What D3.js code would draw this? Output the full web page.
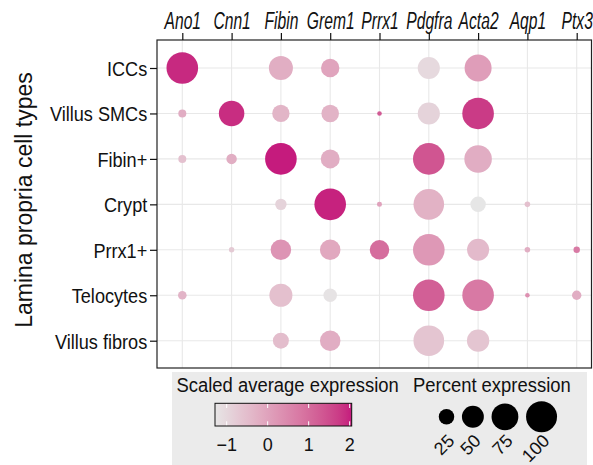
<!DOCTYPE html>
<html>
<head>
<meta charset="utf-8">
<script src="https://cdn.jsdelivr.net/npm/d3@7"></script>
<style>
  body { margin: 0; background: #fff; }
  text { font-family: 'Liberation Sans', Arial, Helvetica, sans-serif; fill: #111; }
</style>
</head>
<body>
<script>
const width = 593
const height = 465

const genes = ['Ano1', 'Cnn1', 'Fibin', 'Grem1', 'Prrx1', 'Pdgfra', 'Acta2', 'Aqp1', 'Ptx3']
const cellTypes = ['ICCs', 'Villus SMCs', 'Fibin+', 'Crypt', 'Prrx1+', 'Telocytes', 'Villus fibros']

// percent of cells expressing (null = no dot)
const pctExp = [
  [100, null, 58, 34, null, 49, 73, null, null],
  [6.4, 65, 30, 31, 2.1, 49, 100, null, null],
  [6.4, 11, 100, 36, null, 100, 76, null, null],
  [null, null, 13, 100, 2.5, 94, 24, 3.1, null],
  [null, 2.9, 42, 42, 38, 100, 49, 3.1, 4.1],
  [7.4, null, 53, 18.5, null, 100, 100, 2.1, 8.8],
  [null, null, 25.6, 42, null, 94, 50, null, null]
]

// scaled average expression
const avgExp = [
  [1.94, null, -0.21, -0.03, null, -1.03, 0.10, null, null],
  [-0.2, 1.9, -0.34, -0.3, 1.3, -0.92, 1.74, null, null],
  [-0.58, -0.22, 2.05, -0.2, null, 1.38, -0.2, null, null],
  [null, null, -0.92, 2.0, 0.01, -0.28, -1.28, -0.55, null],
  [null, -0.74, 0.27, -0.1, 0.98, 0.21, -0.45, -0.21, 0.76],
  [-0.33, null, -0.55, -1.22, null, 1.22, 0.77, 0.35, -0.2],
  [null, null, -0.5, -0.2, null, -0.65, -0.65, null, null]
]

const colorTicks = [-1, 0, 1, 2]
const sizeBreaks = [25, 50, 75, 100]

const panel = { left: 157, top: 40, right: 591.5, bottom: 368 }

let svg = d3.select('body').append('svg')
  .attr('width', width)
  .attr('height', height)

const x = d3.scalePoint().domain(genes).range([182.3, 576.7])
const y = d3.scalePoint().domain(cellTypes).range([68, 340.7])

const colorDomain = [-1.285, 2.05]
const color = d3.scaleLinear()
  .domain(colorDomain)
  .range(['#e6e6e6', '#c51b7d'])
  .interpolate(d3.interpolateLab)

const radius = d3.scaleSqrt().domain([0, 100]).range([0, 15.8])

// panel background + grid
svg.append('rect')
  .attr('x', panel.left).attr('y', panel.top)
  .attr('width', panel.right - panel.left)
  .attr('height', panel.bottom - panel.top)
  .attr('fill', '#fff')

let grid = svg.append('g').attr('class', 'grid')
grid.selectAll('line.v')
  .data(genes).enter().append('line')
  .attr('x1', (d) => x(d)).attr('x2', (d) => x(d))
  .attr('y1', panel.top).attr('y2', panel.bottom)
  .attr('stroke', '#e8e8e8').attr('stroke-width', 1.1)
grid.selectAll('line.h')
  .data(cellTypes).enter().append('line')
  .attr('y1', (d) => y(d)).attr('y2', (d) => y(d))
  .attr('x1', panel.left).attr('x2', panel.right)
  .attr('stroke', '#e8e8e8').attr('stroke-width', 1.1)

// dots
let cells = []
cellTypes.forEach((ct, i) => {
  genes.forEach((g, j) => {
    if (pctExp[i][j] != null) cells.push({ ct: ct, gene: g, pct: pctExp[i][j], avg: avgExp[i][j] })
  })
})

svg.append('g')
  .selectAll('circle')
  .data(cells)
  .enter()
  .append('circle')
  .attr('cx', (d) => x(d.gene))
  .attr('cy', (d) => y(d.ct))
  .attr('r', (d) => radius(d.pct))
  .attr('fill', (d) => color(d.avg))

// panel border
svg.append('rect')
  .attr('x', panel.left).attr('y', panel.top)
  .attr('width', panel.right - panel.left)
  .attr('height', panel.bottom - panel.top)
  .attr('fill', 'none')
  .attr('stroke', '#222')
  .attr('stroke-width', 1.2)

// axes
let xAxis = svg.append('g')
  .attr('transform', `translate(0,${panel.top})`)
  .call(d3.axisTop(x).tickSize(7).tickPadding(0))
xAxis.select('.domain').remove()
xAxis.selectAll('.tick line').attr('stroke', '#111').attr('stroke-width', 1.2)
xAxis.selectAll('.tick text')
  .attr('y', -11).attr('dy', 0)
  .attr('transform', 'scale(0.68,1)')
  .style('font-size', '23px')
  .style('font-style', 'italic')
  .attr('fill', '#111')

let yAxis = svg.append('g')
  .attr('transform', `translate(${panel.left},0)`)
  .call(d3.axisLeft(y).tickSize(7).tickPadding(0))
yAxis.select('.domain').remove()
yAxis.selectAll('.tick line').attr('stroke', '#111').attr('stroke-width', 1.2)
yAxis.selectAll('.tick text')
  .attr('x', -10.5).attr('dy', 0).attr('y', 7.3)
  .attr('transform', 'scale(0.93,1)')
  .style('font-size', '19.5px')
  .attr('fill', '#111')

svg.append('text')
  .attr('transform', 'translate(31.5,200) rotate(-90)')
  .attr('text-anchor', 'middle')
  .style('font-size', '23px')
  .text('Lamina propria cell types')

// legend box
let legend = svg.append('g')
legend.append('rect')
  .attr('x', 172).attr('y', 372)
  .attr('width', 415).attr('height', 100)
  .attr('fill', '#ebebeb')

legend.append('text')
  .attr('transform', 'translate(176.5,391.5) scale(0.945,1)')
  .style('font-size', '19.5px')
  .text('Scaled average expression')

// colour bar
const barX = d3.scaleLinear().domain(colorDomain).range([215, 351.7])
let grad = svg.append('defs').append('linearGradient')
  .attr('id', 'cbar')
  .attr('x1', '0%').attr('x2', '100%')
grad.selectAll('stop')
  .data(d3.range(0, 1.0001, 0.05))
  .enter().append('stop')
  .attr('offset', (d) => `${d * 100}%`)
  .attr('stop-color', (d) => color(colorDomain[0] + d * (colorDomain[1] - colorDomain[0])))

legend.append('rect')
  .attr('x', barX(colorDomain[0])).attr('y', 403.3)
  .attr('width', barX(colorDomain[1]) - barX(colorDomain[0])).attr('height', 22.7)
  .attr('fill', 'url(#cbar)')

legend.selectAll('line.ctop')
  .data(colorTicks).enter().append('line')
  .attr('x1', (d) => barX(d)).attr('x2', (d) => barX(d))
  .attr('y1', 403.3).attr('y2', 408)
  .attr('stroke', '#fff').attr('stroke-width', 1)
legend.selectAll('line.cbot')
  .data(colorTicks).enter().append('line')
  .attr('x1', (d) => barX(d)).attr('x2', (d) => barX(d))
  .attr('y1', 421.3).attr('y2', 426)
  .attr('stroke', '#fff').attr('stroke-width', 1)

legend.append('rect')
  .attr('x', barX(colorDomain[0])).attr('y', 403.3)
  .attr('width', barX(colorDomain[1]) - barX(colorDomain[0])).attr('height', 22.7)
  .attr('fill', 'none')
  .attr('stroke', '#111').attr('stroke-width', 1)

legend.selectAll('text.ctick')
  .data(colorTicks).enter().append('text')
  .attr('x', (d) => barX(d))
  .attr('y', 450.5)
  .attr('text-anchor', 'middle')
  .style('font-size', '18px')
  .text((d) => d < 0 ? '\u2212' + Math.abs(d) : d)

// size legend: keys packed left to right with a fixed gap between circles
legend.append('text')
  .attr('transform', 'translate(413,391.5) scale(0.945,1)')
  .style('font-size', '19.5px')
  .text('Percent expression')

const keyGap = 7.7
let keys = []
sizeBreaks.forEach((b, i) => {
  let r = radius(b) * 0.98
  let cx = i === 0 ? 446.5 : keys[i - 1].cx + keys[i - 1].r + keyGap + r
  keys.push({ value: b, r: r, cx: cx })
})

legend.selectAll('circle')
  .data(keys).enter().append('circle')
  .attr('cx', (d) => d.cx)
  .attr('cy', 416.8)
  .attr('r', (d) => d.r)
  .attr('fill', '#000')

legend.selectAll('text.stick')
  .data(keys).enter().append('text')
  .attr('transform', (d) => `translate(${d.cx + 9},442) rotate(-45)`)
  .attr('text-anchor', 'end')
  .style('font-size', '18px')
  .text((d) => d.value)
</script>
</body>
</html>
